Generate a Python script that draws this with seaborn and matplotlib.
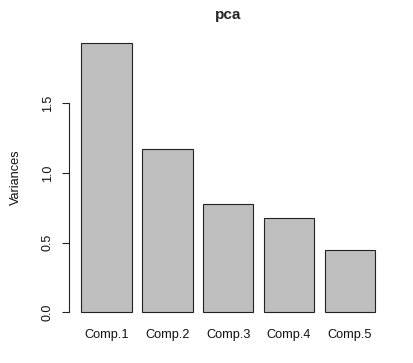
import matplotlib
matplotlib.use("Agg")
import matplotlib.pyplot as plt
import seaborn as sns
import pandas as pd

# scree plot values
components = ["Comp.1", "Comp.2", "Comp.3", "Comp.4", "Comp.5"]
variances = [1.935, 1.173, 0.777, 0.676, 0.446]
y_ticks = [0.0, 0.5, 1.0, 1.5]

sns.set_style("white")
plt.rcParams['font.family'] = ['Liberation Sans', 'DejaVu Sans']

df = pd.DataFrame({"comp": components, "var": variances})

fig = plt.figure(figsize=(4.14, 3.63), dpi=100)
ax = fig.add_axes([0.167, 0.110, 0.768, 0.802])

sns.barplot(data=df, x="comp", y="var", color="#bebebe", saturation=1,
            width=1 / 1.2, edgecolor="#222222", linewidth=0.8, ax=ax)

ax.set_xlim(-0.61, 4.61)
ax.set_ylim(-0.077, 1.935 * 1.04)
ax.set_yticks(y_ticks)
ax.set_yticklabels([f"{t:.1f}" for t in y_ticks])
ax.tick_params(axis="y", length=5, width=0.8, color="#222222", pad=6, left=True,
               labelsize=9, labelrotation=90, labelcolor="#111111")
for lab in ax.get_yticklabels():
    lab.set_verticalalignment("center")
ax.tick_params(axis="x", length=0, pad=4, labelsize=9.2, labelcolor="#111111")

for s in ["top", "right", "bottom"]:
    ax.spines[s].set_visible(False)
ax.spines["left"].set_bounds(0, 1.5)
ax.spines["left"].set_color("#222222")
ax.spines["left"].set_linewidth(0.8)

ax.set_xlabel("")
ax.set_ylabel("Variances", fontsize=9.2, labelpad=14, color="#111111")
ax.set_title("pca", fontsize=11, fontweight="bold", pad=9)

fig.savefig("out.png", dpi=100, facecolor="white")
